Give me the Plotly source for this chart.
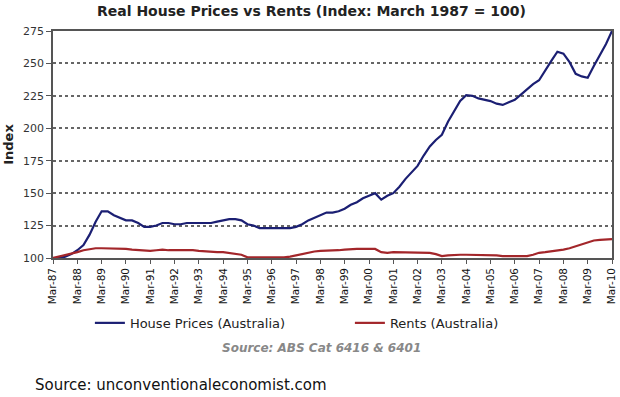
import plotly.graph_objects as go
import pandas as pd

# Quarterly data, Mar-87 .. Mar-10
house_prices = [
    100, 100, 101, 103,            # 1987
    106, 110, 118, 128,            # 1988
    136, 136, 133, 131,            # 1989
    129, 129, 127, 124,            # 1990
    124, 125, 127, 127,            # 1991
    126, 126, 127, 127,            # 1992
    127, 127, 127, 128,            # 1993
    129, 130, 130, 129,            # 1994
    126, 125, 123, 123,            # 1995
    122.5, 122.5, 123, 123,        # 1996
    124, 126, 129, 131,            # 1997
    133, 135, 135, 136,            # 1998
    138, 141, 143, 146,            # 1999
    148, 150, 145, 148,            # 2000
    150, 155, 161, 166,            # 2001
    171, 179, 186, 191,            # 2002
    195, 205, 213, 221,            # 2003
    225.5, 225, 223, 222,          # 2004
    221, 219, 218, 220,            # 2005
    222, 226, 230, 234,            # 2006
    237, 244, 252, 259,            # 2007
    257.5, 251, 242, 240,          # 2008
    239, 248, 256, 265,            # 2009
    275,                           # Mar-10
]
rents = [
    100, 101, 102, 103.5,
    104.5, 106, 107, 107.5,
    107.5, 107.5, 107.5, 107.5,
    107, 106.5, 106, 105.5,
    105.5, 106, 106.5, 106,
    106, 106, 106.5, 106,
    105.5, 105, 105, 104.5,
    104.5, 104, 103.5, 102.5,
    100.5, 100.5, 100, 100,
    100, 100, 100.5, 101,
    102, 103, 104.5, 105,
    105.5, 105.5, 106, 106,
    106.5, 107, 107, 107,
    107, 107, 104.5, 104,
    104.5, 104.5, 104.5, 104,
    104, 104, 104, 103,
    101.5, 102, 102.5, 102.5,
    102.5, 102.5, 102.5, 102.5,
    102.5, 102, 101.5, 101.5,
    101.5, 101.5, 101.5, 102.5,
    104, 104.5, 105, 105.5,
    106.5, 107.5, 109, 111,
    112.5, 113.5, 114, 114.5,
    114.5,
]
dates = pd.date_range("1987-03-01", periods=len(house_prices), freq="3MS")
tick_dates = [f"{y}-03-01" for y in range(1987, 2011)]
tick_labels = [f"Mar-{str(y)[-2:]}" for y in range(1987, 2011)]
y_ticks = [100, 125, 150, 175, 200, 225, 250, 275]

fig = go.Figure()
fig.add_trace(go.Scatter(x=dates, y=house_prices, mode="lines",
                         name="House Prices (Australia)",
                         line=dict(color="#1b1f73", width=2.2)))
fig.add_trace(go.Scatter(x=dates, y=rents, mode="lines",
                         name="Rents (Australia)",
                         line=dict(color="#a3262a", width=2.2)))

fig.update_layout(
    width=620, height=397,
    margin=dict(l=53, r=8, t=31, b=139, autoexpand=False),
    paper_bgcolor="white", plot_bgcolor="white",
    font=dict(family="DejaVu Sans", color="#222"),
    showlegend=True,
    legend=dict(orientation="h", x=0.066, xanchor="left", y=-0.286, yanchor="middle",
                font=dict(size=13, color="#222"), entrywidth=215, entrywidthmode="pixels",
                bgcolor="rgba(0,0,0,0)", tracegroupgap=0),
)
fig.update_xaxes(
    range=[dates[0], dates[-1]], automargin=False,
    tickvals=tick_dates, ticktext=tick_labels, tickangle=-90,
    tickfont=dict(size=10.5, color="#111"),
    ticks="outside", ticklen=4, tickcolor="#555",
    showline=True, linecolor="#555", linewidth=1.5, mirror=True,
    showgrid=False, zeroline=False,
)
fig.update_yaxes(
    range=[100, 275], tickvals=y_ticks, automargin=False,
    tickfont=dict(size=11, color="#333"),
    ticks="outside", ticklen=5, tickcolor="#555",
    showline=True, linecolor="#555", linewidth=1.5, mirror=True,
    showgrid=True, gridcolor="#666", griddash="dot", gridwidth=1.5,
    zeroline=False,
    title=dict(text="<b>Index</b>", font=dict(size=13, color="#222"), standoff=6),
)

fig.add_annotation(text="<b>Real House Prices vs Rents (Index: March 1987 = 100)</b>",
                   xref="paper", yref="paper", x=0.463, y=1, xanchor="center", yanchor="bottom",
                   yshift=10, showarrow=False, font=dict(size=14, color="#222"))
fig.add_annotation(text="<i><b>Source: ABS Cat 6416 &amp; 6401</b></i>",
                   xref="paper", yref="paper", x=0.48, y=-0.396, xanchor="center", yanchor="middle",
                   showarrow=False, font=dict(size=12, color="#888"))
fig.add_annotation(text="Source: unconventionaleconomist.com",
                   xref="paper", yref="paper", x=-0.036, y=-0.56, xanchor="left", yanchor="middle",
                   showarrow=False, font=dict(size=15, color="#111"))

fig.write_html("out.html", config={"displayModeBar": False},
               post_script="document.body.style.margin='0';")
